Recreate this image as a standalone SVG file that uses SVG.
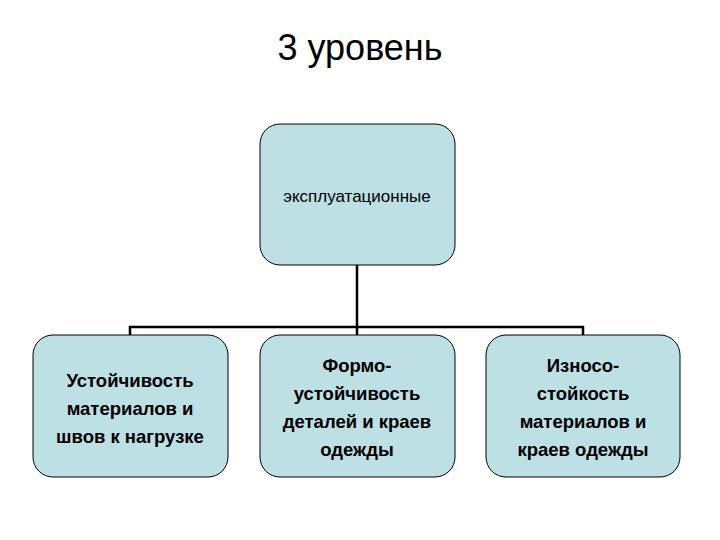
<svg xmlns="http://www.w3.org/2000/svg" width="720" height="540" viewBox="0 0 720 540">
<style>
.box{fill:#bde0e4;stroke:#000;stroke-width:1}
.t{font-family:"Liberation Sans",Arial,sans-serif;font-size:18.5px;font-weight:bold;text-anchor:middle;fill:#000}
.c{stroke:#000;stroke-width:2.5;fill:none}
</style>
<rect width="720" height="540" fill="#fff"/>
<text x="360" y="60" font-family="Liberation Sans,Arial,sans-serif" font-size="36" text-anchor="middle">3 уровень</text>
<g id="connectors">
<path class="c" d="M357 265V327M130 336V327H583V336M357 327V336"/>
</g>
<g id="top"><rect class="box" x="260" y="124" width="195" height="141" rx="20"/>
<text x="357" y="202" font-family="Liberation Sans,Arial,sans-serif" font-size="17" text-anchor="middle">эксплуатационные</text></g>
<g id="n1"><rect class="box" x="33" y="335" width="195" height="142" rx="20"/>
<text class="t"><tspan x="130" y="387">Устойчивость</tspan><tspan x="130" y="415">материалов и</tspan><tspan x="130" y="443">швов к нагрузке</tspan></text></g>
<g id="n2"><rect class="box" x="260" y="335" width="195" height="142" rx="20"/>
<text class="t"><tspan x="357" y="372">Формо-</tspan><tspan x="357" y="400">устойчивость</tspan><tspan x="357" y="428">деталей и краев</tspan><tspan x="357" y="456">одежды</tspan></text></g>
<g id="n3"><rect class="box" x="486" y="335" width="194" height="142" rx="20"/>
<text class="t"><tspan x="583" y="372">Износо-</tspan><tspan x="583" y="400">стойкость</tspan><tspan x="583" y="428">материалов и</tspan><tspan x="583" y="456">краев одежды</tspan></text></g>
</svg>
